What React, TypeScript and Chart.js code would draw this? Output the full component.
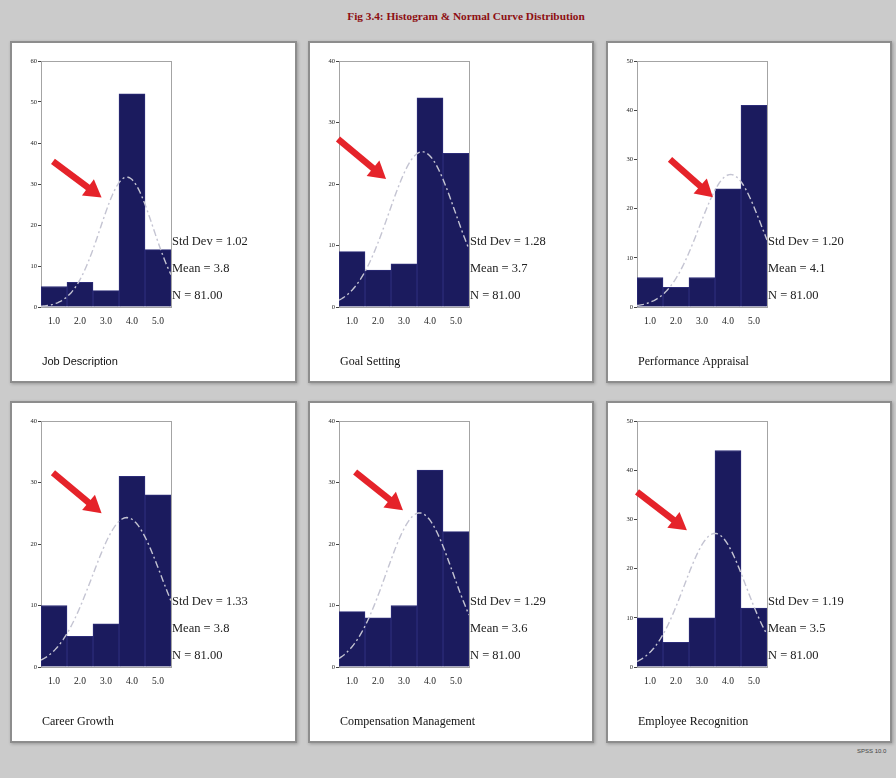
import React, { useEffect, useRef } from "react";
import { Chart, registerables } from "chart.js";
Chart.register(...registerables);

// ---- data ----
const binCenters = [1, 2, 3, 4, 5];
const panelTitles = [
  "Job Description",
  "Goal Setting",
  "Performance Appraisal",
  "Career Growth",
  "Compensation Management",
  "Employee Recognition",
];
const jobDescription = [5, 6, 4, 52, 14];
const goalSetting = [9, 6, 7, 34, 25];
const performanceAppraisal = [6, 4, 6, 24, 41];
const careerGrowth = [10, 5, 7, 31, 28];
const compensationManagement = [9, 8, 10, 32, 22];
const employeeRecognition = [10, 5, 10, 44, 12];
const stdDevs = [1.02, 1.28, 1.2, 1.33, 1.29, 1.19];
const means = [3.8, 3.7, 4.1, 3.8, 3.6, 3.5];
const nValues = [81, 81, 81, 81, 81, 81];
const yMaxes = [60, 40, 50, 40, 40, 50];
// arrow annotations (tail, tip) in data units
const arrowTails = [[0.96, 35.5], [0.46, 27.3], [1.77, 30.0], [0.96, 31.6], [1.12, 31.7], [0.5, 35.6]];
const arrowTips = [[2.83, 26.7], [2.31, 20.8], [3.42, 22.3], [2.83, 25.0], [2.96, 25.5], [2.42, 27.8]];

const seriesList = [jobDescription, goalSetting, performanceAppraisal, careerGrowth, compensationManagement, employeeRecognition];

// ---- layout ----
const panelLefts = [12, 310, 608];
const panelTops = [43, 403];
const panelWidths = [283, 282, 282];
const panelHeight = 338;
const PLOT_LEFT = 29;
const PLOT_RIGHT = 159;
const PLOT_TOP = 18;
const PLOT_BOTTOM = 264;
const XAXIS_H = 20;

const SERIF = "'Liberation Serif', 'Times New Roman', serif";
const SANS = "'Liberation Sans', Arial, sans-serif";

function normalCurve(mean: number, sd: number, n: number) {
  const pts: { x: number; y: number }[] = [];
  for (let i = 0; i <= 100; i++) {
    const x = 0.5 + i * 0.05;
    const z = (x - mean) / sd;
    pts.push({ x, y: (n * 1 * Math.exp(-0.5 * z * z)) / (sd * Math.sqrt(2 * Math.PI)) });
  }
  return pts;
}

function Panel({ idx, left, top, width }: { idx: number; left: number; top: number; width: number }) {
  const ref = useRef<HTMLCanvasElement | null>(null);
  useEffect(() => {
    if (!ref.current) return;
    const values = seriesList[idx];
    const plugin = {
      id: "decor" + idx,
      beforeDatasetsDraw(chart: any) {
        const { ctx, chartArea } = chart;
        ctx.save();
        ctx.strokeStyle = "#a4a4a4";
        ctx.lineWidth = 1;
        ctx.strokeRect(chartArea.left + 0.5, chartArea.top + 0.5, chartArea.right - chartArea.left, chartArea.bottom - chartArea.top);
        ctx.restore();
      },
      afterDraw(chart: any) {
        const { ctx, chartArea, scales } = chart;
        ctx.save();
        // stats text
        ctx.fillStyle = "#222";
        ctx.font = `12.5px ${SERIF}`;
        ctx.textBaseline = "middle";
        ctx.textAlign = "left";
        const tx = chartArea.right + 1;
        ctx.fillText(`Std Dev = ${stdDevs[idx].toFixed(2)}`, tx, chartArea.bottom - 65);
        ctx.fillText(`Mean = ${means[idx].toFixed(1)}`, tx, chartArea.bottom - 38);
        ctx.fillText(`N = ${nValues[idx].toFixed(2)}`, tx, chartArea.bottom - 11);
        // panel label
        ctx.font = idx === 0 ? `11px ${SANS}` : `12px ${SERIF}`;
        ctx.fillStyle = "#111";
        ctx.fillText(panelTitles[idx], chartArea.left + 1, chartArea.bottom + 55);
        // arrow
        const x1 = scales.x.getPixelForValue(arrowTails[idx][0]);
        const y1 = scales.y.getPixelForValue(arrowTails[idx][1]);
        const x2 = scales.x.getPixelForValue(arrowTips[idx][0]);
        const y2 = scales.y.getPixelForValue(arrowTips[idx][1]);
        const ang = Math.atan2(y2 - y1, x2 - x1);
        const headLen = 17;
        const headW = 10;
        const bx = x2 - headLen * Math.cos(ang);
        const by = y2 - headLen * Math.sin(ang);
        ctx.strokeStyle = "#e5232a";
        ctx.fillStyle = "#e5232a";
        ctx.lineWidth = 6.5;
        ctx.lineCap = "butt";
        ctx.beginPath();
        ctx.moveTo(x1, y1);
        ctx.lineTo(bx + 2 * Math.cos(ang), by + 2 * Math.sin(ang));
        ctx.stroke();
        ctx.beginPath();
        ctx.moveTo(x2, y2);
        ctx.lineTo(bx + headW * Math.sin(ang), by - headW * Math.cos(ang));
        ctx.lineTo(bx - headW * Math.sin(ang), by + headW * Math.cos(ang));
        ctx.closePath();
        ctx.fill();
        ctx.restore();
      },
    };
    const chart = new Chart(ref.current, {
      type: "bar",
      data: {
        datasets: [
          {
            type: "line",
            data: normalCurve(means[idx], stdDevs[idx], nValues[idx]),
            borderColor: "#c4c4d2",
            borderWidth: 1.4,
            borderDash: [7, 3, 2, 3],
            pointRadius: 0,
            fill: false,
            order: 0,
          } as any,
          {
            type: "bar",
            data: binCenters.map((x, i) => ({ x, y: values[i] })),
            backgroundColor: "#1b1b5e",
            borderColor: "#2c2c78",
            borderWidth: 1,
            borderSkipped: "bottom",
            barPercentage: 1,
            categoryPercentage: 1,
            order: 1,
          } as any,
        ],
      },
      options: {
        responsive: false,
        animation: false,
        layout: {
          padding: {
            left: 0,
            top: PLOT_TOP,
            right: width - PLOT_RIGHT,
            bottom: panelHeight - PLOT_BOTTOM - XAXIS_H,
          },
        },
        plugins: { legend: { display: false }, tooltip: { enabled: false }, title: { display: false } },
        scales: {
          x: {
            type: "linear",
            min: 0.5,
            max: 5.5,
            offset: false,
            afterBuildTicks: (s: any) => {
              s.ticks = binCenters.map((v) => ({ value: v }));
            },
            ticks: {
              font: { family: SERIF, size: 9.5 },
              color: "#222",
              padding: 9,
              maxRotation: 0,
              autoSkip: false,
              callback: (v: any) => Number(v).toFixed(1),
            },
            grid: { display: false, drawTicks: false },
            border: { display: false },
            afterFit: (s: any) => {
              s.height = XAXIS_H;
            },
          },
          y: {
            min: 0,
            max: yMaxes[idx],
            ticks: { stepSize: 10, font: { family: SERIF, size: 6.5 }, color: "#222", padding: 1 },
            grid: { drawOnChartArea: false, drawTicks: true, tickLength: 3, color: "#444" },
            border: { display: true, color: "#999" },
            afterFit: (s: any) => {
              s.width = PLOT_LEFT;
            },
          },
        },
      } as any,
      plugins: [plugin],
    });
    return () => chart.destroy();
  }, [idx, width]);
  return (
    <div
      style={{
        position: "absolute",
        left,
        top,
        width,
        height: panelHeight,
        background: "#fff",
        boxShadow: "0 0 0 2px #8d8d8d, 1px 1px 3px 2px rgba(0,0,0,0.25)",
      }}
    >
      <canvas ref={ref} width={width} height={panelHeight} style={{ width, height: panelHeight, display: "block" }} />
    </div>
  );
}

export default function App() {
  return (
    <div style={{ position: "fixed", left: 0, top: 0, width: 896, height: 778, background: "#cbcbcb", overflow: "hidden" }}>
      <div
        style={{
          position: "absolute",
          left: 0,
          width: 932,
          top: 10,
          textAlign: "center",
          font: `bold 11.3px ${SERIF}`,
          color: "#8e0f12",
          whiteSpace: "nowrap",
        }}
      >
        Fig 3.4: Histogram &amp; Normal Curve Distribution
      </div>
      {[0, 1, 2, 3, 4, 5].map((i) => (
        <Panel key={i} idx={i} left={panelLefts[i % 3]} top={panelTops[Math.floor(i / 3)]} width={panelWidths[i % 3]} />
      ))}
      <div style={{ position: "absolute", left: 857, top: 748, font: `6px ${SANS}`, color: "#444", whiteSpace: "nowrap" }}>
        SPSS 10.0
      </div>
    </div>
  );
}
